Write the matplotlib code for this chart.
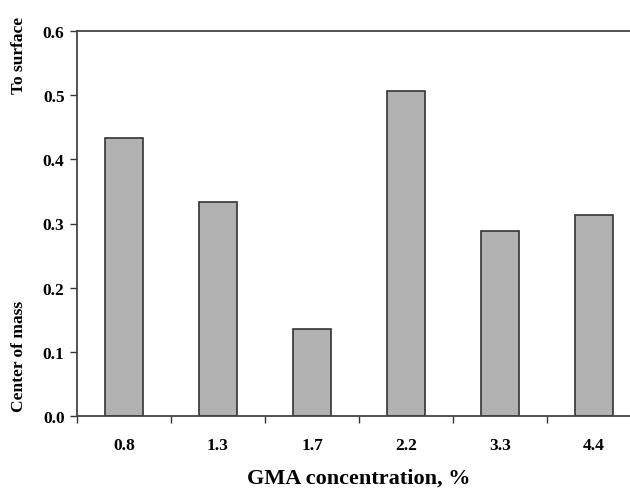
import matplotlib
matplotlib.use("Agg")
import matplotlib.pyplot as plt
import numpy as np

categories = ["0.8", "1.3", "1.7", "2.2", "3.3", "4.4"]
values = [0.434, 0.334, 0.135, 0.507, 0.288, 0.314]
yticks = [0.0, 0.1, 0.2, 0.3, 0.4, 0.5, 0.6]

plt.rcParams['font.family'] = ['Liberation Serif', 'DejaVu Serif']
plt.rcParams['font.weight'] = 'bold'

fig = plt.figure(figsize=(6.3, 4.89), dpi=100)
ax = fig.add_axes([77/630, 72/489, 564/630, 385/489])

x = np.arange(len(categories))
ax.bar(x, values, width=0.4, color='#b2b2b2', edgecolor='#333333', linewidth=1.2)

ax.set_xlim(-0.5, len(categories) - 0.5)
ax.set_ylim(0, 0.6)
ax.set_yticks(yticks)
ax.set_yticklabels([f"{v:.1f}" for v in yticks], fontsize=12.5, fontweight='bold')
ax.set_xticks(x)
ax.set_xticklabels(categories, fontsize=12.5, fontweight='bold')
ax.set_xticks(np.arange(len(categories) + 1) - 0.5, minor=True)
ax.tick_params(axis='x', which='major', length=0, pad=15)
ax.tick_params(axis='x', which='minor', length=5, width=1, direction='out', color='#333333')
ax.tick_params(axis='y', length=5, width=1, direction='out', color='#333333', pad=4)

for s in ['left', 'top', 'bottom']:
    ax.spines[s].set_color('#444444')
    ax.spines[s].set_linewidth(1.3)
ax.spines['right'].set_visible(False)

fig.text(359/630, 1 - 479/489, "GMA concentration, %", ha='center', va='center',
         fontsize=16, fontweight='bold')

fig.text(19/630, 1 - 55/489, "To surface", rotation=90, ha='center', va='center',
         fontsize=12.5, fontweight='bold')
fig.text(19/630, 1 - 356/489, "Center of mass", rotation=90, ha='center', va='center',
         fontsize=12.5, fontweight='bold')

fig.savefig("out.png", dpi=100)
